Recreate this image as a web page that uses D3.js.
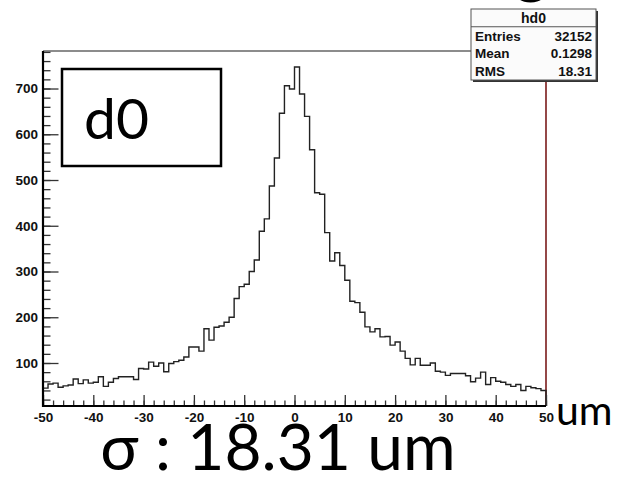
<!DOCTYPE html>
<html>
<head>
<meta charset="utf-8">
<script src="https://cdn.jsdelivr.net/npm/d3@7"></script>
<style>
  body { margin: 0; background: #fff; }
  svg { display: block; }
</style>
</head>
<body>
<svg id="chart" width="625" height="478"></svg>
<script>
// Histogram hd0: 100 bins of d0 residual, -50 .. 50 um
const xRange = [-50, 50];
const binCounts = [
  45, 54, 56, 47, 50, 52, 65, 55, 63, 56,
  58, 70, 49, 58, 66, 70, 70, 70, 64, 88,
  87, 102, 93, 100, 81, 99, 103, 106, 113, 135,
  135, 126, 175, 150, 178, 181, 189, 200, 241, 267,
  272, 300, 325, 388, 415, 487, 548, 646, 706, 699,
  747, 688, 639, 566, 472, 469, 385, 323, 341, 313,
  281, 235, 232, 211, 179, 168, 175, 157, 158, 139,
  146, 126, 110, 96, 110, 95, 95, 100, 82, 80,
  73, 77, 77, 77, 72, 59, 67, 80, 53, 68,
  60, 58, 53, 49, 53, 40, 49, 46, 44, 40
];
const yRange = [6, 782];
const xMajorTicks = [-50, -40, -30, -20, -10, 0, 10, 20, 30, 40, 50];
const yMajorTicks = [100, 200, 300, 400, 500, 600, 700];
const statsTitle = "hd0";
const statsNames = ["Entries", "Mean", "RMS"];
const statsValues = ["32152", "0.1298", "18.31"];
const panelLabel = "d0";
const unitLabel = "um";
const sigmaText = "σ : 18.31 um";
const headingTail = "g";

const svg = d3.select("#chart");
const frame = { left: 43, right: 546, top: 51, bottom: 406 };

const x = d3.scaleLinear().domain(xRange).range([frame.left, frame.right]);
const y = d3.scaleLinear().domain(yRange).range([frame.bottom, frame.top]);

const labelFont = "'Liberation Sans', Arial, sans-serif";
const slideFont = "Lato, 'Open Sans', sans-serif";
const plainNumber = d => String(d);

// cut-off heading glyph at the very top
svg.append("text")
  .attr("x", 514).attr("y", -9)
  .attr("font-family", slideFont)
  .attr("font-size", 66)
  .attr("fill", "#000")
  .text(headingTail);

// frame: top edge grey, right edge dark red
svg.append("line")
  .attr("x1", frame.left).attr("x2", frame.right)
  .attr("y1", frame.top).attr("y2", frame.top)
  .attr("stroke", "#666").attr("stroke-width", 1.3);
svg.append("line")
  .attr("x1", frame.right).attr("x2", frame.right)
  .attr("y1", frame.top).attr("y2", frame.bottom)
  .attr("stroke", "#7a1b1b").attr("stroke-width", 1.6);

// histogram outline (step)
const nb = binCounts.length;
const bw = (xRange[1] - xRange[0]) / nb;
const pts = [];
binCounts.forEach((c, i) => {
  const lo = xRange[0] + i * bw;
  pts.push([x(lo), y(c)]);
  pts.push([x(lo + bw), y(c)]);
});
svg.append("path")
  .attr("d", d3.line()([[x(xRange[0]), y(yRange[0])], ...pts, [x(xRange[1]), y(yRange[0])]]))
  .attr("fill", "none")
  .attr("stroke", "#222")
  .attr("stroke-width", 1.4);

function styleTicks(g) {
  g.select(".domain").remove();
  g.selectAll(".tick line").attr("stroke", "#333").attr("stroke-width", 1.3);
}
function styleLabels(g) {
  g.selectAll(".tick text")
    .attr("font-family", labelFont).attr("font-weight", "bold")
    .attr("font-size", 13.5).attr("fill", "#111");
}

// x axis: minor + major ticks pointing into the frame
const gx = svg.append("g").attr("transform", `translate(0,${frame.bottom})`);
gx.call(d3.axisBottom(x).tickValues(d3.range(-50, 51, 2)).tickSize(-5.5));
gx.selectAll(".tick text").remove();
styleTicks(gx);
const gxMaj = svg.append("g").attr("transform", `translate(0,${frame.bottom})`);
gxMaj.call(d3.axisBottom(x).tickValues(xMajorTicks).tickSize(-11).tickPadding(6).tickFormat(plainNumber));
styleTicks(gxMaj);
styleLabels(gxMaj);

// y axis: minor + major ticks pointing into the frame
const gy = svg.append("g").attr("transform", `translate(${frame.left},0)`);
gy.call(d3.axisLeft(y).tickValues(d3.range(20, 781, 20)).tickSize(-7.5));
gy.selectAll(".tick text").remove();
styleTicks(gy);
const gyMaj = svg.append("g").attr("transform", `translate(${frame.left},0)`);
gyMaj.call(d3.axisLeft(y).tickValues(yMajorTicks).tickSize(-15.5).tickPadding(5).tickFormat(plainNumber));
styleTicks(gyMaj);
styleLabels(gyMaj);

// axis lines
svg.append("line")
  .attr("x1", frame.left).attr("x2", frame.left)
  .attr("y1", frame.top).attr("y2", frame.bottom + 1)
  .attr("stroke", "#000").attr("stroke-width", 2.2);
svg.append("line")
  .attr("x1", frame.left - 1).attr("x2", frame.right)
  .attr("y1", frame.bottom).attr("y2", frame.bottom)
  .attr("stroke", "#000").attr("stroke-width", 2.2);

// statistics box
const sb = { x: 471, y: 9, w: 125, h: 71 };
const rowH = sb.h / 4;
svg.append("rect")
  .attr("x", sb.x + 2).attr("y", sb.y + 2).attr("width", sb.w).attr("height", sb.h)
  .attr("fill", "#333");
svg.append("rect")
  .attr("x", sb.x).attr("y", sb.y).attr("width", sb.w).attr("height", sb.h)
  .attr("fill", "#fbfbfb").attr("stroke", "#555").attr("stroke-width", 1);
svg.append("line")
  .attr("x1", sb.x).attr("x2", sb.x + sb.w)
  .attr("y1", sb.y + rowH).attr("y2", sb.y + rowH)
  .attr("stroke", "#555").attr("stroke-width", 1);
svg.append("text")
  .attr("x", sb.x + sb.w / 2).attr("y", sb.y + rowH / 2 + 5)
  .attr("text-anchor", "middle")
  .attr("font-family", labelFont).attr("font-weight", "bold").attr("font-size", 14)
  .attr("fill", "#111").text(statsTitle);
statsNames.forEach((n, i) => {
  const cy = sb.y + rowH * (i + 1) + rowH / 2 + 5;
  svg.append("text")
    .attr("x", sb.x + 4).attr("y", cy)
    .attr("font-family", labelFont).attr("font-weight", "bold").attr("font-size", 13.5)
    .attr("fill", "#111").text(n);
  svg.append("text")
    .attr("x", sb.x + sb.w - 4).attr("y", cy)
    .attr("text-anchor", "end")
    .attr("font-family", labelFont).attr("font-weight", "bold").attr("font-size", 13.5)
    .attr("fill", "#111").text(statsValues[i]);
});

// "d0" label box
svg.append("rect")
  .attr("x", 62).attr("y", 69).attr("width", 159).attr("height", 97)
  .attr("fill", "#fff").attr("stroke", "#000").attr("stroke-width", 2.5);
svg.append("text")
  .attr("x", 84).attr("y", 139)
  .attr("font-family", slideFont).attr("font-size", 57)
  .attr("fill", "#000").text(panelLabel);

// unit next to the x axis
svg.append("text")
  .attr("x", 556).attr("y", 425)
  .attr("font-family", slideFont).attr("font-size", 41)
  .attr("fill", "#000").text(unitLabel);

// resolution caption
svg.append("text")
  .attr("x", 278).attr("y", 470)
  .attr("text-anchor", "middle")
  .attr("font-family", slideFont).attr("font-size", 64)
  .attr("fill", "#000").text(sigmaText);
</script>
</body>
</html>
